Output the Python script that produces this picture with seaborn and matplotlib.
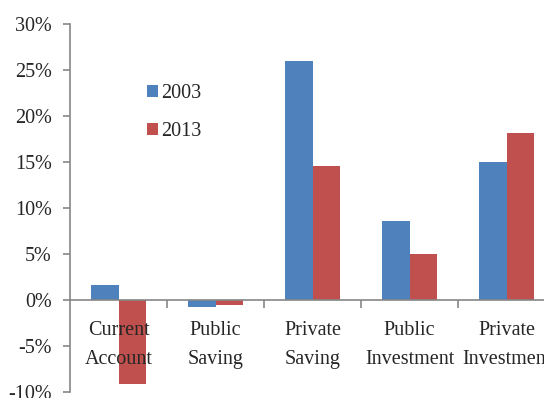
import numpy as np
import pandas as pd
import matplotlib
matplotlib.use("Agg")
import matplotlib.pyplot as plt
import seaborn as sns

categories = ["Current\nAccount", "Public\nSaving", "Private\nSaving",
              "Public\nInvestment", "Private\nInvestment"]
values_2003 = [1.6, -0.8, 26.0, 8.6, 15.0]
values_2013 = [-9.1, -0.5, 14.6, 5.0, 18.1]
years = ["2003", "2013"]
y_ticks = [-10, -5, 0, 5, 10, 15, 20, 25, 30]

df = pd.DataFrame({
    "category": categories * 2,
    "year": [years[0]] * 5 + [years[1]] * 5,
    "value": values_2003 + values_2013,
})

sns.set_style("white")
plt.rcParams["font.family"] = ["Liberation Serif", "DejaVu Serif"]

W, H = 544, 398
fig = plt.figure(figsize=(W / 100, H / 100), dpi=100)
# axes reaches past the right edge: the reference is cropped there
left, right, top, bottom = 70, 555, 24, 392
ax = fig.add_axes([left / W, 1 - bottom / H, (right - left) / W, (bottom - top) / H])

palette = {"2003": "#4F81BD", "2013": "#C0504D"}
sns.barplot(data=df, x="category", y="value", hue="year", palette=palette,
            width=0.57, linewidth=0, saturation=1, ax=ax)

ax.set_axisbelow(False)
ax.set_xlim(-0.5, 4.5)
ax.set_ylim(-10, 30)
ax.set_yticks(y_ticks)
ax.set_yticklabels([f"{t}%" for t in y_ticks], fontsize=14.5)
ax.set_xlabel("")
ax.set_ylabel("")

gray = "#868686"
for s in ["top", "right"]:
    ax.spines[s].set_visible(False)
ax.spines["left"].set_color(gray)
ax.spines["bottom"].set_color(gray)
ax.spines["left"].set_linewidth(1.2)
ax.spines["bottom"].set_linewidth(1.2)
ax.spines["bottom"].set_position(("data", 0))

ax.tick_params(axis="y", direction="out", length=5, color=gray, width=1.2,
               left=True, pad=8)
ax.tick_params(axis="x", which="major", length=0, pad=15, labelsize=14.5)
ax.set_xticks(np.arange(0.5, 5, 1), minor=True)
ax.tick_params(axis="x", which="minor", direction="out", length=6,
               color=gray, width=1.2, bottom=True)
for lab in ax.get_xticklabels():
    lab.set_linespacing(1.75)

ax.legend(loc="upper left", bbox_to_anchor=(0.142, 0.859), frameon=False,
          fontsize=14.5, handlelength=0.55, handleheight=0.55, handletextpad=0.15,
          labelspacing=0.95, borderaxespad=0)

fig.savefig("out.png", dpi=100)
